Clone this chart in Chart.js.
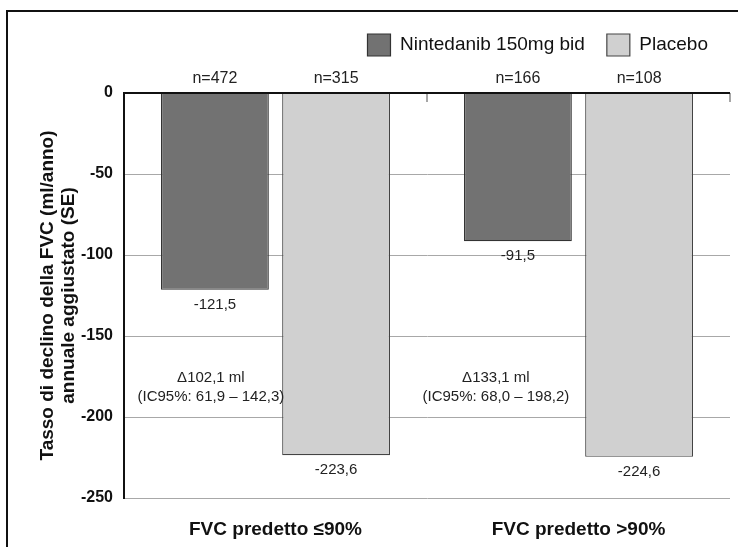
<!DOCTYPE html>
<html>
<head>
<meta charset="utf-8">
<script src="https://cdn.jsdelivr.net/npm/chart.js@4/dist/chart.umd.min.js"></script>
<style>
  html, body { margin: 0; padding: 0; background: #fff; }
  #wrap { position: relative; width: 738px; height: 547px; overflow: hidden; }
  #frame { position: absolute; left: 6px; top: 10px; width: 760px; height: 560px;
           border-left: 2px solid #111; border-top: 2px solid #111; pointer-events: none; }
</style>
</head>
<body>
<div id="wrap">
  <canvas id="chart" width="738" height="547"></canvas>
  <div id="frame"></div>
</div>
<script>
const categories = ['FVC predetto ≤90%', 'FVC predetto >90%'];
const nintedanib = [-121.5, -91.5];
const placebo = [-223.6, -224.6];
const nNintedanib = [472, 166];
const nPlacebo = [315, 108];
const deltaText = ['Δ102,1 ml', 'Δ133,1 ml'];
const ciText = ['(IC95%: 61,9 – 142,3)', '(IC95%: 68,0 – 198,2)'];
const yTicks = [0, -50, -100, -150, -200, -250];

const fmt = v => v.toFixed(1).replace('.', ',');

Chart.defaults.font.family = '"Liberation Sans", Arial, sans-serif';
Chart.defaults.color = '#111';

// zero line, small ticks, n= labels, value labels, delta notes
const labelPlugin = {
    id: 'barLabels',
    afterDatasetsDraw(chart) {
        const ctx = chart.ctx;
        const x = chart.scales.x;
        const y = chart.scales.y;
        const area = chart.chartArea;
        const y0 = y.getPixelForValue(0);
        const half = (x.getPixelForValue(1) - x.getPixelForValue(0)) / 2;

        ctx.save();
        ctx.strokeStyle = '#888';
        ctx.lineWidth = 1.5;
        categories.forEach((c, i) => {
            const px = x.getPixelForValue(i) + half;
            ctx.beginPath();
            ctx.moveTo(px, y0);
            ctx.lineTo(px, y0 + 9);
            ctx.stroke();
        });
        ctx.strokeStyle = '#111';
        ctx.lineWidth = 2;
        ctx.beginPath();
        ctx.moveTo(area.left, y0);
        ctx.lineTo(area.right, y0);
        ctx.stroke();

        ctx.fillStyle = '#222';
        ctx.textAlign = 'center';
        ctx.textBaseline = 'middle';
        const counts = [nNintedanib, nPlacebo];
        chart.data.datasets.forEach((ds, d) => {
            const meta = chart.getDatasetMeta(d);
            meta.data.forEach((bar, i) => {
                ctx.font = '16px "Liberation Sans", Arial, sans-serif';
                ctx.fillText('n=' + counts[d][i], bar.x, y0 - 14);
                ctx.font = '15px "Liberation Sans", Arial, sans-serif';
                ctx.fillText(fmt(ds.data[i]), bar.x, bar.y + 15);
            });
        });

        const shift = [-4, -22];
        const meta0 = chart.getDatasetMeta(0);
        ctx.font = '15px "Liberation Sans", Arial, sans-serif';
        deltaText.forEach((t, i) => {
            const px = meta0.data[i].x + shift[i];
            const py = y.getPixelForValue(-176);
            ctx.fillText(t, px, py);
            ctx.fillText(ciText[i], px, py + 19);
        });
        ctx.restore();
    }
};

const legendSpace = {
    id: 'legendSpace',
    beforeInit(chart) {
        const fit = chart.legend.fit;
        chart.legend.fit = function () {
            fit.bind(chart.legend)();
            this.height += 27;
        };
    }
};

new Chart(document.getElementById('chart'), {
    type: 'bar',
    data: {
        labels: categories,
        datasets: [
            {
                label: 'Nintedanib 150mg bid',
                data: nintedanib,
                backgroundColor: '#727272',
                borderColor: '#333',
                borderWidth: 1.2
            },
            {
                label: 'Placebo',
                data: placebo,
                backgroundColor: '#d0d0d0',
                borderColor: '#444',
                borderWidth: 1.2
            }
        ]
    },
    options: {
        responsive: false,
        animation: false,
        layout: { padding: { top: 12, right: 8, bottom: 0, left: 0 } },
        categoryPercentage: 0.8,
        barPercentage: 0.89,
        plugins: {
            legend: {
                position: 'top',
                align: 'end',
                labels: {
                    boxWidth: 23,
                    boxHeight: 22,
                    padding: 22,
                    color: '#111',
                    font: { size: 19 }
                }
            },
            tooltip: { enabled: false }
        },
        scales: {
            x: {
                grid: { display: false },
                border: { display: false },
                ticks: { padding: 12, color: '#111', font: { size: 19, weight: 'bold' } },
                afterFit(scale) { scale.height = 49; }
            },
            y: {
                min: -250,
                max: 0,
                afterBuildTicks(scale) { scale.ticks = yTicks.map(v => ({ value: v })); },
                grid: {
                    drawTicks: false,
                    color: '#a8a8a8',
                    lineWidth: 1
                },
                border: { color: '#111', width: 2 },
                ticks: { padding: 11, color: '#111', font: { size: 16, weight: 'bold' } },
                title: {
                    display: true,
                    text: ['Tasso di declino della FVC (ml/anno)', 'annuale aggiustato (SE)'],
                    color: '#111',
                    font: { size: 19, weight: 'bold', lineHeight: 1.1 },
                    padding: { top: 37, bottom: 0 }
                },
                afterFit(scale) { scale.width = 124; }
            }
        }
    },
    plugins: [labelPlugin, legendSpace]
});
</script>
</body>
</html>
